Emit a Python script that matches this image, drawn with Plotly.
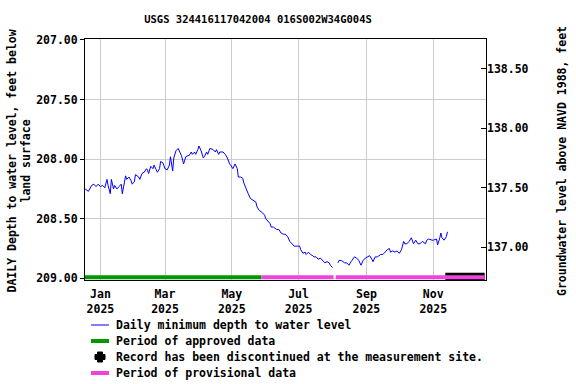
import plotly.graph_objects as go

# ---------------- data ----------------
dates = [
    "2024-12-18", "2024-12-21", "2024-12-24", "2024-12-26", "2024-12-28", "2024-12-30",
    "2025-01-01", "2025-01-03", "2025-01-05", "2025-01-07", "2025-01-08", "2025-01-10",
    "2025-01-11", "2025-01-13", "2025-01-14", "2025-01-16", "2025-01-18", "2025-01-20",
    "2025-01-21", "2025-01-22", "2025-01-24", "2025-01-25", "2025-01-27", "2025-01-29",
    "2025-01-30", "2025-02-01", "2025-02-02", "2025-02-05", "2025-02-06", "2025-02-08",
    "2025-02-10", "2025-02-12", "2025-02-13", "2025-02-14", "2025-02-16", "2025-02-18",
    "2025-02-19", "2025-02-21", "2025-02-22", "2025-02-24", "2025-02-25", "2025-02-27",
    "2025-03-01", "2025-03-03", "2025-03-05", "2025-03-06", "2025-03-08", "2025-03-09",
    "2025-03-11", "2025-03-13", "2025-03-15", "2025-03-16", "2025-03-18", "2025-03-20",
    "2025-03-22", "2025-03-23", "2025-03-25", "2025-03-26", "2025-03-28", "2025-03-29",
    "2025-03-31", "2025-04-01", "2025-04-03", "2025-04-05", "2025-04-06", "2025-04-08",
    "2025-04-09", "2025-04-11", "2025-04-14", "2025-04-16", "2025-04-17", "2025-04-19",
    "2025-04-20", "2025-04-23", "2025-04-25", "2025-04-27", "2025-04-29", "2025-04-30",
    "2025-05-02", "2025-05-04", "2025-05-06", "2025-05-07", "2025-05-09", "2025-05-11",
    "2025-05-12", "2025-05-14", "2025-05-16", "2025-05-18", "2025-05-20", "2025-05-23",
    "2025-05-24", "2025-05-26", "2025-05-29", "2025-05-31", "2025-06-01", "2025-06-03",
    "2025-06-05", "2025-06-06", "2025-06-08", "2025-06-11", "2025-06-13", "2025-06-15",
    "2025-06-17", "2025-06-19", "2025-06-21", "2025-06-23", "2025-06-25", "2025-06-27",
    "2025-06-30", "2025-07-02", "2025-07-03", "2025-07-05", "2025-07-07", "2025-07-08",
    "2025-07-10", "2025-07-12", "2025-07-14", "2025-07-15", "2025-07-17", "2025-07-19",
    "2025-07-21", "2025-07-23", "2025-07-25", "2025-07-27", "2025-07-29", "2025-07-30",
    "2025-08-01", "2025-08-03",
    "2025-08-06", "2025-08-07", "2025-08-09", "2025-08-12", "2025-08-14", "2025-08-16",
    "2025-08-18", "2025-08-21", "2025-08-23", "2025-08-25", "2025-08-27", "2025-08-29",
    "2025-08-31", "2025-09-03", "2025-09-04", "2025-09-06", "2025-09-07", "2025-09-09",
    "2025-09-11", "2025-09-14", "2025-09-16", "2025-09-18", "2025-09-20", "2025-09-22",
    "2025-09-23", "2025-09-25", "2025-09-27", "2025-09-29", "2025-10-01", "2025-10-03",
    "2025-10-05", "2025-10-06", "2025-10-08", "2025-10-10", "2025-10-12", "2025-10-14",
    "2025-10-16", "2025-10-18", "2025-10-20", "2025-10-22", "2025-10-25", "2025-10-26",
    "2025-10-28", "2025-10-31", "2025-11-01", "2025-11-04", "2025-11-05", "2025-11-07",
    "2025-11-08", "2025-11-09", "2025-11-11", "2025-11-13", "2025-11-14",
]
depth = [
    208.25, 208.27, 208.22, 208.21, 208.23, 208.21,
    208.23, 208.22, 208.24, 208.17, 208.22, 208.29,
    208.17, 208.25, 208.22, 208.25, 208.23, 208.21,
    208.29, 208.23, 208.14, 208.17, 208.15, 208.18,
    208.21, 208.19, 208.13, 208.15, 208.17, 208.12,
    208.11, 208.08, 208.09, 208.12, 208.06, 208.08,
    208.05, 208.09, 208.11, 208.08, 208.02, 208.03,
    208.08, 208.09, 208.05, 207.98, 208.10, 207.99,
    207.93, 207.91, 207.96, 207.97, 208.04, 207.98,
    207.97, 207.97, 207.94, 207.96, 207.94, 207.96,
    207.92, 207.89, 207.93, 207.99, 207.98, 207.94,
    207.96, 207.91, 207.92, 207.94, 207.92, 207.96,
    207.94, 207.94, 207.96, 207.99, 208.04, 208.05,
    208.08, 208.04, 208.08, 208.15, 208.15, 208.16,
    208.20, 208.25, 208.29, 208.33, 208.34, 208.36,
    208.40, 208.43, 208.45, 208.47, 208.50, 208.52,
    208.54, 208.57, 208.57, 208.59, 208.59, 208.62,
    208.63, 208.63, 208.65, 208.69, 208.71, 208.73,
    208.73, 208.73, 208.76, 208.79, 208.78, 208.80,
    208.78, 208.80, 208.81, 208.82, 208.82, 208.84,
    208.83, 208.85, 208.87, 208.86, 208.87, 208.89,
    208.91, None,
    208.87, 208.85, 208.85, 208.87, 208.87, 208.89,
    208.86, 208.82, 208.83, 208.85, 208.89, 208.85,
    208.83, 208.82, 208.81, 208.84, 208.86, 208.82,
    208.82, 208.80, 208.80, 208.78, 208.76, 208.75,
    208.78, 208.77, 208.78, 208.77, 208.79, 208.76,
    208.69, 208.71, 208.71, 208.69, 208.66, 208.71,
    208.68, 208.71, 208.71, 208.69, 208.71, 208.68,
    208.67, 208.68, 208.68, 208.67, 208.72, 208.66,
    208.62, 208.66, 208.68, 208.65, 208.61,
]

land_surface_navd88 = 345.74          # depth + elevation
bar_level = 208.99                     # depth at which period bars are drawn
approved_period = ["2024-12-17", "2025-05-28"]
provisional_periods = [["2025-05-28", "2025-08-02"], ["2025-08-04", "2025-12-18"]]
discontinued_period = ["2025-11-12", "2025-12-18"]

left_ticks = [207.0, 207.5, 208.0, 208.5, 209.0]
right_ticks = [137.0, 137.5, 138.0, 138.5]
x_tickvals = ["2025-01-01", "2025-03-01", "2025-05-01", "2025-07-01", "2025-09-01", "2025-11-01"]
x_ticktext = ["Jan<br>2025", "Mar<br>2025", "May<br>2025", "Jul<br>2025", "Sep<br>2025", "Nov<br>2025"]

title_text = "USGS 324416117042004 016S002W34G004S"
left_title = "DAILY Depth to water level, feet below<br>land surface"
right_title = "Groundwater level above NAVD 1988, feet"
legend_labels = [
    "Daily minimum depth to water level",
    "Period of approved data",
    "Record has been discontinued at the measurement site.",
    "Period of provisional data",
]

# ---------------- figure ----------------
FONT = "DejaVu Sans Mono"
BLUE = "#0000FF"
GREEN = "#009900"
PINK = "#EE44DD"
W, H = 576, 384
ML, MR, MT, MB = 85, 90, 39, 104
PW, PH = W - ML - MR, H - MT - MB


def px_x(px):
    return (px - ML) / PW


def px_y(py):
    return (H - MB - py) / PH


y_range = [209.014, 206.992]
y2_range = [land_surface_navd88 - y_range[0], land_surface_navd88 - y_range[1]]

fig = go.Figure()

fig.add_trace(go.Scatter(
    x=dates, y=depth, mode="lines", line=dict(color=BLUE, width=1),
    name=legend_labels[0], connectgaps=False, showlegend=False,
))
fig.add_trace(go.Scatter(
    x=approved_period, y=[bar_level, bar_level], mode="lines",
    line=dict(color=GREEN, width=4), name=legend_labels[1], showlegend=False,
))
fig.add_trace(go.Scatter(
    x=discontinued_period, y=[bar_level, bar_level], mode="lines",
    line=dict(color="black", width=9), name=legend_labels[2], showlegend=False,
))
for s, e in provisional_periods:
    fig.add_trace(go.Scatter(
        x=[s, e], y=[bar_level, bar_level], mode="lines",
        line=dict(color=PINK, width=4), name=legend_labels[3], showlegend=False,
    ))
# invisible trace to enable the right axis
fig.add_trace(go.Scatter(x=[None], y=[None], yaxis="y2", showlegend=False))

# ---- legend drawn below the plot ----
legend_rows_y = [325, 341, 357, 373]
shapes = [
    dict(type="line", xref="paper", yref="paper", x0=px_x(91), x1=px_x(109),
         y0=px_y(legend_rows_y[0]), y1=px_y(legend_rows_y[0]), line=dict(color=BLUE, width=1)),
    dict(type="line", xref="paper", yref="paper", x0=px_x(91), x1=px_x(109),
         y0=px_y(legend_rows_y[1]), y1=px_y(legend_rows_y[1]), line=dict(color=GREEN, width=4)),
    dict(type="path", xref="paper", yref="paper", xsizemode="pixel", ysizemode="pixel",
         xanchor=px_x(100), yanchor=px_y(legend_rows_y[2]),
         path="M -2.5,5 L 2.5,5 L 2.5,2.5 L 5,2.5 L 5,-2.5 L 2.5,-2.5 L 2.5,-5 "
              "L -2.5,-5 L -2.5,-2.5 L -5,-2.5 L -5,2.5 L -2.5,2.5 Z",
         fillcolor="black", line=dict(color="black", width=1)),
    dict(type="line", xref="paper", yref="paper", x0=px_x(91), x1=px_x(109),
         y0=px_y(legend_rows_y[3]), y1=px_y(legend_rows_y[3]), line=dict(color=PINK, width=4)),
]
annotations = [
    dict(text=lab, xref="paper", yref="paper", x=px_x(114), y=px_y(yy),
         xanchor="left", yanchor="middle", showarrow=False,
         font=dict(family=FONT, size=11.5, weight="bold", color="black"))
    for lab, yy in zip(legend_labels, legend_rows_y)
]
annotations += [
    dict(text=left_title, xref="paper", yref="paper", x=px_x(18.5), y=px_y(161),
         textangle=-90, showarrow=False, xanchor="center", yanchor="middle",
         font=dict(family=FONT, size=11.5, weight="bold", color="black")),
    dict(text=right_title, xref="paper", yref="paper", x=px_x(562), y=px_y(161),
         textangle=-90, showarrow=False, xanchor="center", yanchor="middle",
         font=dict(family=FONT, size=11.5, weight="bold", color="black")),
]

fig.update_layout(
    width=W, height=H,
    margin=dict(l=ML, r=MR, t=MT, b=MB, autoexpand=False),
    paper_bgcolor="white", plot_bgcolor="white",
    font=dict(family=FONT, size=11.5, color="black", weight="bold"),
    title=dict(text=title_text, x=258 / W, xanchor="center", y=1 - 19 / H, yanchor="middle",
               font=dict(family=FONT, size=10.5, color="black", weight="bold")),
    showlegend=False,
    xaxis=dict(
        type="date", range=["2024-12-17 22:00", "2025-12-19 05:00"],
        tickvals=x_tickvals, ticktext=x_ticktext, ticks="", ticklabelstandoff=3,
        showgrid=True, gridcolor="#CCCCCC", gridwidth=1,
        showline=True, linecolor="black", linewidth=1, mirror=True,
        zeroline=False,
    ),
    yaxis=dict(
        range=y_range, tickvals=left_ticks, tickformat=".2f",
        ticks="outside", ticklen=4, tickcolor="black",
        showgrid=True, gridcolor="#CCCCCC", gridwidth=1,
        showline=True, linecolor="black", linewidth=1, mirror=True, zeroline=False,
    ),
    yaxis2=dict(
        range=y2_range, overlaying="y", side="right", tickvals=right_ticks, tickformat=".2f",
        ticks="inside", ticklen=5, tickcolor="black", showgrid=False, zeroline=False,
        showline=False,
    ),
    shapes=shapes,
    annotations=annotations,
)

fig.write_html("out.html", config={"displayModeBar": False},
               post_script="document.body.style.margin='0px';")
